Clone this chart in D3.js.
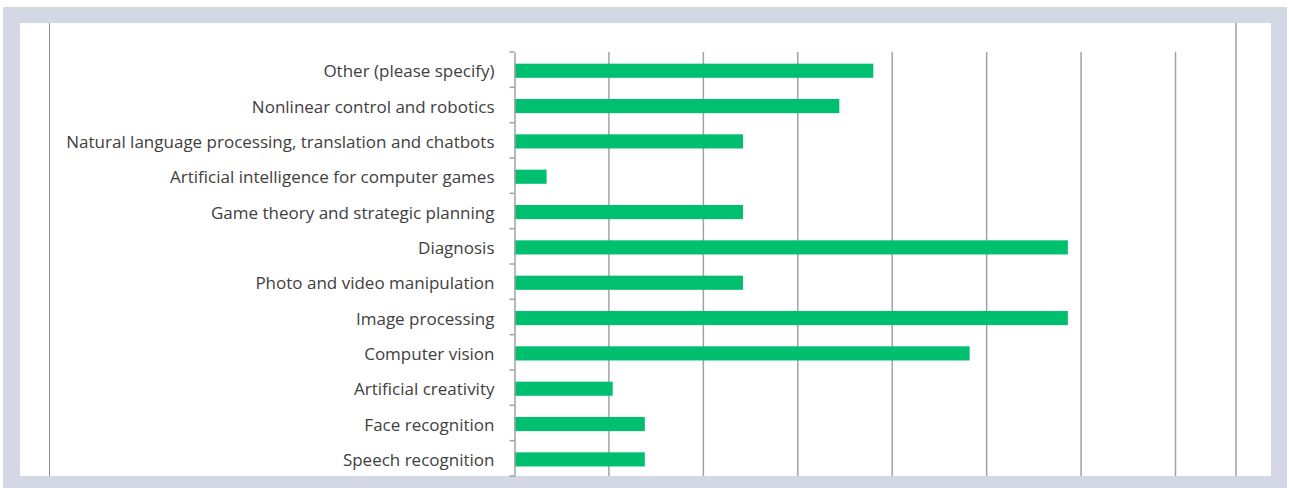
<!DOCTYPE html>
<html>
<head>
<meta charset="utf-8">
<script src="https://cdn.jsdelivr.net/npm/d3@7"></script>
<style>
  body { margin: 0; background: #fff; }
  svg { display: block; }
</style>
</head>
<body>
<div id="chart"></div>
<script>
// Categories, top to bottom
var categories = [
    "Other (please specify)",
    "Nonlinear control and robotics",
    "Natural language processing, translation and chatbots",
    "Artificial intelligence for computer games",
    "Game theory and strategic planning",
    "Diagnosis",
    "Photo and video manipulation",
    "Image processing",
    "Computer vision",
    "Artificial creativity",
    "Face recognition",
    "Speech recognition"
];

// Share of respondents (%)
var values = [19.0, 17.2, 12.1, 1.7, 12.1, 29.3, 12.1, 29.3, 24.1, 5.2, 6.9, 6.9];

// Gridline positions (%), no labels shown
var gridTicks = [0, 5, 10, 15, 20, 25, 30, 35];

var width = 1289, height = 488;

var svg = d3.select("#chart").append("svg")
    .attr("width", width)
    .attr("height", height);

// lavender frame
svg.append("rect")
    .attr("x", 3).attr("y", 7)
    .attr("width", 1284).attr("height", 481)
    .attr("fill", "#d4d7e4");
svg.append("rect")
    .attr("x", 20).attr("y", 23)
    .attr("width", 1251).attr("height", 453)
    .attr("fill", "#ffffff");

// chart area border lines (left / right)
svg.append("line")
    .attr("x1", 49.5).attr("x2", 49.5)
    .attr("y1", 23).attr("y2", 476)
    .attr("stroke", "#8f8f8f").attr("stroke-width", 1);
svg.append("line")
    .attr("x1", 1236).attr("x2", 1236)
    .attr("y1", 23).attr("y2", 476)
    .attr("stroke", "#8f8f8f").attr("stroke-width", 1.3);

var xScale = d3.scaleLinear()
    .domain([0, 35])
    .range([514.5, 1175.5]);

var yScale = d3.scaleBand()
    .domain(categories)
    .range([52, 476])
    .paddingInner(0.6)
    .paddingOuter(0.3)
    .align(0.55);

// vertical gridlines
svg.selectAll(".grid")
    .data(gridTicks.slice(1))
    .enter()
    .append("line")
    .attr("class", "grid")
    .attr("x1", d => xScale(d))
    .attr("x2", d => xScale(d))
    .attr("y1", 52)
    .attr("y2", 476)
    .attr("stroke", "#a2a2a2")
    .attr("stroke-width", 1.5);

// bars
svg.selectAll(".bar")
    .data(values)
    .enter()
    .append("rect")
    .attr("class", "bar")
    .attr("x", xScale(0))
    .attr("y", (d, i) => yScale(categories[i]))
    .attr("width", d => xScale(d) - xScale(0))
    .attr("height", yScale.bandwidth())
    .attr("fill", "#00bf6f");

// category axis
var catAxis = d3.scaleBand()
    .domain(categories)
    .range([52, 476]);

var yAxis = d3.axisLeft(catAxis)
    .tickSize(0)
    .tickPadding(20);

var gAxis = svg.append("g")
    .attr("transform", "translate(" + xScale(0) + ",0)")
    .call(yAxis);

gAxis.select(".domain").attr("stroke", "#a2a2a2").attr("stroke-width", 1.5);
gAxis.selectAll("text")
    .attr("fill", "#404040")
    .attr("dy", "0.45em")
    .style("font-family", "'Open Sans', sans-serif")
    .style("font-size", "17px");

// boundary tick marks between categories
var bounds = d3.range(categories.length + 1).map(i => 52 + i * catAxis.step());
svg.selectAll(".cat-tick")
    .data(bounds)
    .enter()
    .append("line")
    .attr("class", "cat-tick")
    .attr("x1", xScale(0) - 5)
    .attr("x2", xScale(0))
    .attr("y1", d => d)
    .attr("y2", d => d)
    .attr("stroke", "#a2a2a2")
    .attr("stroke-width", 1.5);
</script>
</body>
</html>
